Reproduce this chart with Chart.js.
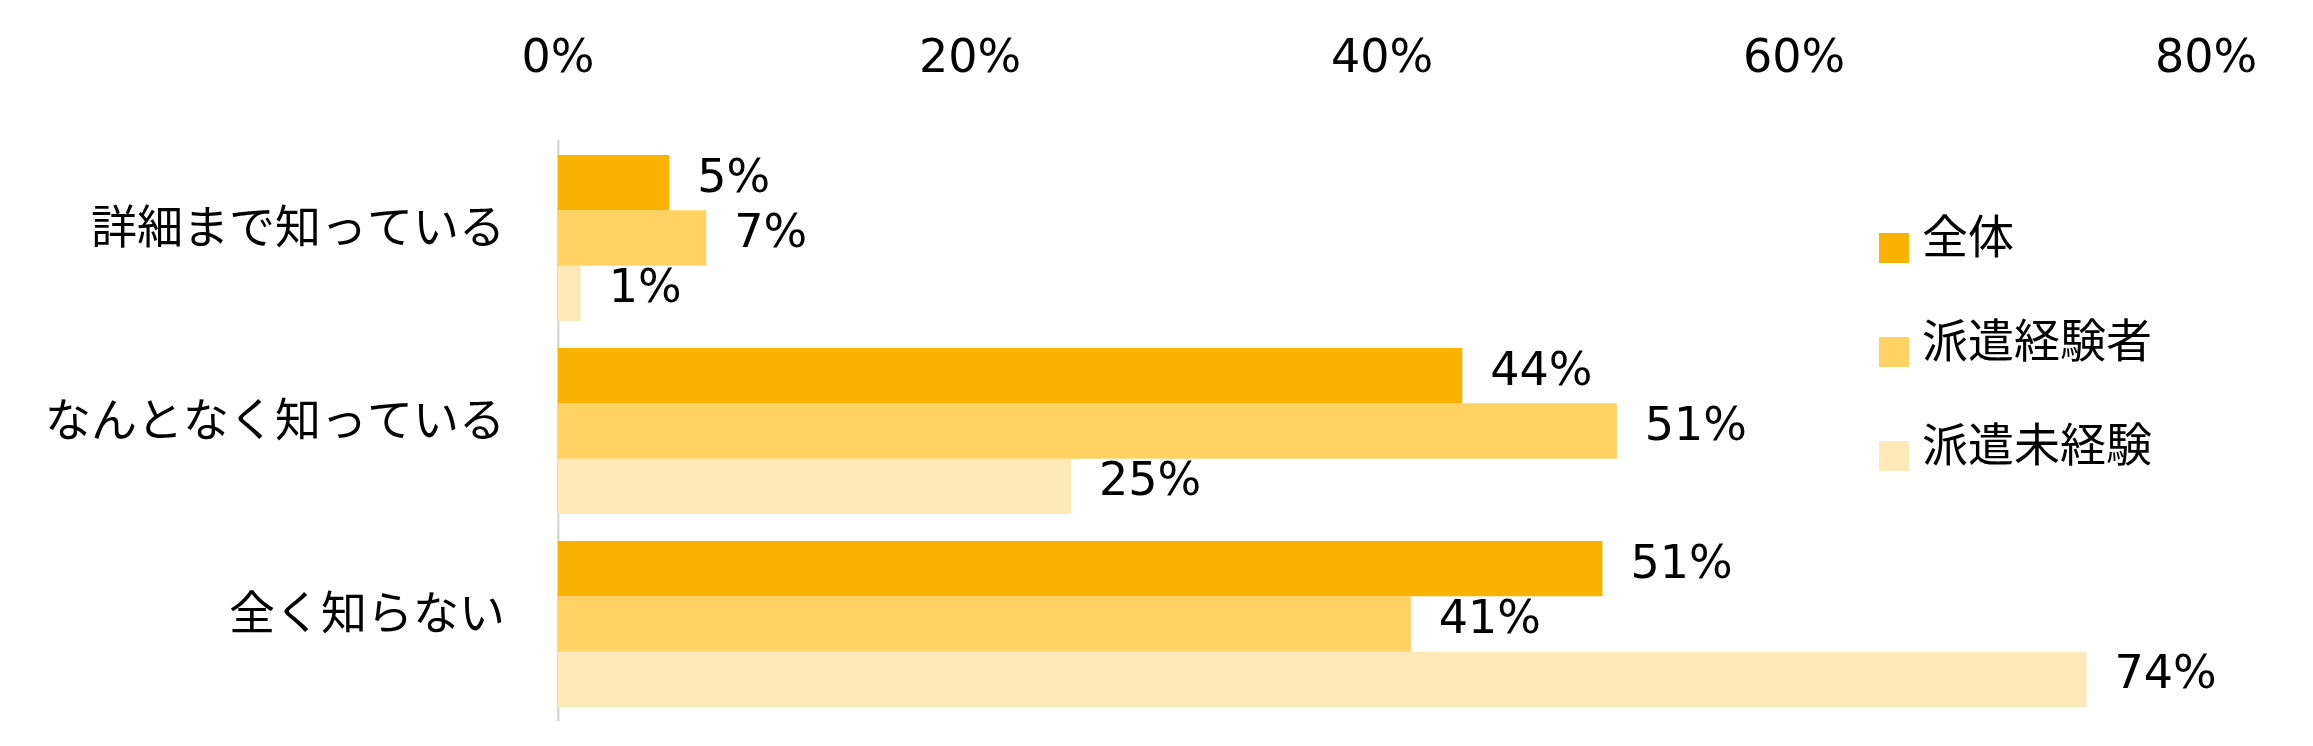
<!DOCTYPE html>
<html>
<head>
<meta charset="utf-8">
<script src="https://cdn.jsdelivr.net/npm/chart.js@4.4.1/dist/chart.umd.min.js"></script>
<style>
  html, body { margin: 0; padding: 0; background: #fff; }
  #wrap { width: 2313px; height: 746px; }
</style>
</head>
<body>
<div id="wrap"><canvas id="chart" width="2313" height="746"></canvas></div>
<script>
const categories = ['詳細まで知っている', 'なんとなく知っている', '全く知らない'];
const seriesNames = ['全体', '派遣経験者', '派遣未経験'];
const allValues = [5.4, 43.9, 50.7];
const experiencedValues = [7.2, 51.4, 41.4];
const inexperiencedValues = [1.1, 24.9, 74.2];
const tickValues = [0, 20, 40, 60, 80];
const colors = ['#F9B200', '#FFD264', '#FFE8B7'];

const FONT = '"DejaVu Sans", "Noto Sans CJK JP", sans-serif';
Chart.defaults.font.family = FONT;
Chart.defaults.font.size = 46;
Chart.defaults.color = '#000';

// value labels at the end of each bar
const barLabels = {
  id: 'barLabels',
  afterDatasetsDraw(chart) {
    const ctx = chart.ctx;
    ctx.save();
    ctx.font = '46px ' + FONT;
    ctx.fillStyle = '#000';
    ctx.textAlign = 'left';
    ctx.textBaseline = 'middle';
    chart.data.datasets.forEach((ds, i) => {
      chart.getDatasetMeta(i).data.forEach((bar, j) => {
        ctx.fillText(Math.round(ds.data[j]) + '%', bar.x + 28, bar.y - 3);
      });
    });
    ctx.restore();
  }
};

// legend drawn over the right part of the plot, like the original
const sideLegend = {
  id: 'sideLegend',
  afterDraw(chart) {
    const ctx = chart.ctx;
    ctx.save();
    ctx.font = '46px ' + FONT;
    ctx.textAlign = 'left';
    ctx.textBaseline = 'middle';
    chart.data.datasets.forEach((ds, i) => {
      const cy = 248 + i * 104;
      ctx.fillStyle = ds.backgroundColor;
      ctx.fillRect(1879, cy - 15, 30, 30);
      ctx.fillStyle = '#000';
      ctx.fillText(ds.label, 1922, cy - 7);
    });
    ctx.restore();
  }
};

new Chart(document.getElementById('chart'), {
  type: 'bar',
  data: {
    labels: categories,
    datasets: [
      { label: seriesNames[0], data: allValues, backgroundColor: colors[0] },
      { label: seriesNames[1], data: experiencedValues, backgroundColor: colors[1] },
      { label: seriesNames[2], data: inexperiencedValues, backgroundColor: colors[2] }
    ]
  },
  options: {
    indexAxis: 'y',
    responsive: false,
    devicePixelRatio: 1,
    animation: false,
    layout: { padding: { top: 0, right: 107, bottom: 25.5, left: 0 } },
    datasets: { bar: { barPercentage: 1.0, categoryPercentage: 0.86 } },
    plugins: {
      legend: { display: false },
      tooltip: { enabled: false }
    },
    scales: {
      x: {
        position: 'top',
        min: 0,
        max: 80,
        afterBuildTicks(axis) { axis.ticks = tickValues.map(v => ({ value: v })); },
        afterFit(axis) { axis.height = 141.5; },
        grid: { display: false, drawTicks: false },
        border: { display: false },
        ticks: { padding: 54, maxRotation: 0, callback: v => v + '%' }
      },
      y: {
        afterFit(axis) {
          axis.width = 558;
          axis.paddingTop = 0;
          axis.paddingBottom = 0;
        },
        grid: { display: false, drawTicks: false },
        border: { display: true, color: '#D9D9D9', width: 2.5 },
        ticks: { padding: 53, labelOffset: -7 }
      }
    }
  },
  plugins: [barLabels, sideLegend]
});
</script>
</body>
</html>
